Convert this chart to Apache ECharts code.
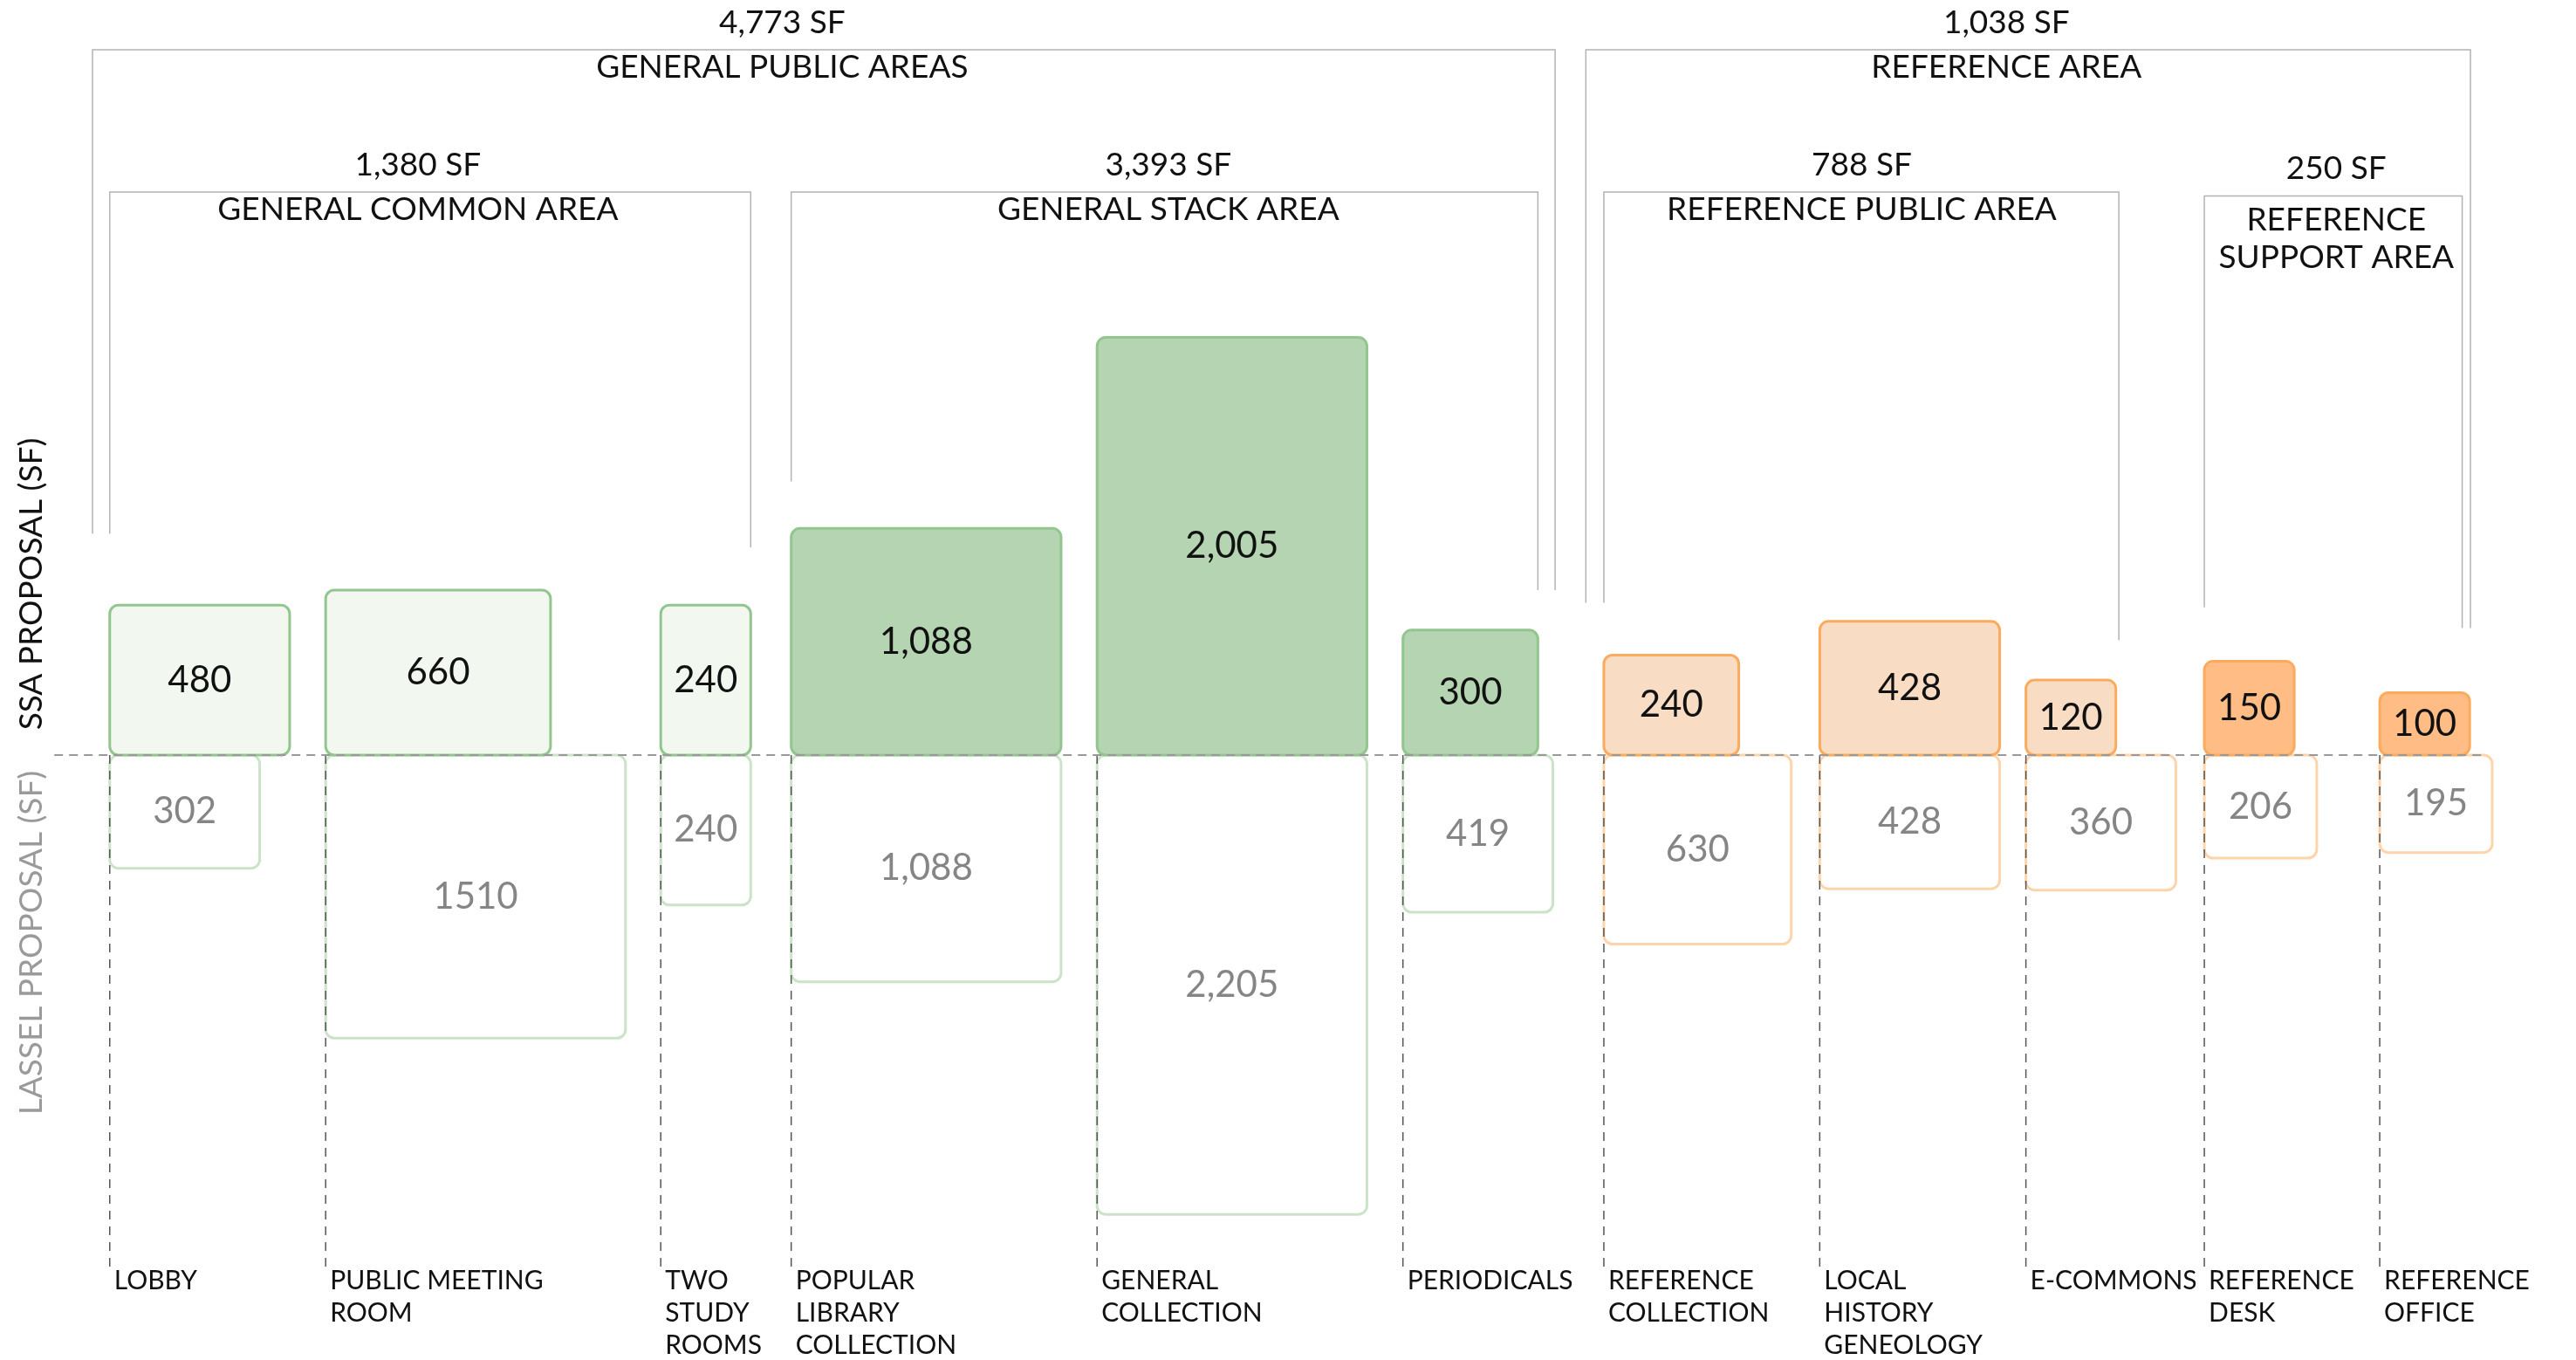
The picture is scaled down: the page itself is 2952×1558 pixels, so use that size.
<!DOCTYPE html>
<html>
<head>
<meta charset="utf-8">
<title>SSA vs Lassel proposal</title>
<script src="https://cdn.jsdelivr.net/npm/echarts@6/dist/echarts.min.js"></script>
<style>
  html, body { margin: 0; padding: 0; background: #fff; }
  #main { width: 2952px; height: 1558px; }
</style>
</head>
<body>
<div id="main"></div>
<script>
// room data (SF) and the room width used for each box (ft)
var categories = ['LOBBY', 'PUBLIC MEETING\nROOM', 'TWO\nSTUDY\nROOMS', 'POPULAR\nLIBRARY\nCOLLECTION',
    'GENERAL\nCOLLECTION', 'PERIODICALS', 'REFERENCE\nCOLLECTION', 'LOCAL\nHISTORY\nGENEOLOGY',
    'E-COMMONS', 'REFERENCE\nDESK', 'REFERENCE\nOFFICE'];
var ssaValues = [480, 660, 240, 1088, 2005, 300, 240, 428, 120, 150, 100];
var lasselValues = [302, 1510, 240, 1088, 2205, 419, 630, 428, 360, 206, 195];
var lasselLabels = ['302', '1510', '240', '1,088', '2,205', '419', '630', '428', '360', '206', '195'];
var ssaWidths = [24, 30, 12, 36, 36, 18, 18, 24, 12, 12, 12];
var lasselWidths = [20, 40, 12, 36, 36, 20, 25, 24, 20, 15, 15];
var family = ['green', 'green', 'green', 'green', 'green', 'green', 'orange', 'orange', 'orange', 'orange', 'orange'];
var shade = ['light', 'light', 'light', 'dark', 'dark', 'dark', 'light', 'light', 'light', 'dark', 'dark'];

var groupNames = ['GENERAL PUBLIC AREAS', 'GENERAL COMMON AREA', 'GENERAL STACK AREA',
    'REFERENCE AREA', 'REFERENCE PUBLIC AREA', 'REFERENCE\nSUPPORT AREA'];
var groupTotals = [4773, 1380, 3393, 1038, 788, 250];

// layout, in ft along the axes
var boxX = [3.0, 31.8, 76.5, 93.9, 134.7, 175.5, 202.3, 231.1, 258.6, 282.4, 305.8];
// [left, right, top, left leg end, right leg end, label x]
var bracketLayout = [
    [0.7, 195.8, 94.05, 29.5, 22.0, 92.7],
    [3.0, 88.5, 75.08, 29.5, 27.7, 44.1],
    [93.9, 193.5, 75.08, 36.5, 22.0, 144.2],
    [199.9, 317.9, 94.05, 20.3, 16.95, 256.0],
    [202.3, 271.0, 75.08, 20.3, 15.3, 236.7],
    [282.4, 316.8, 74.56, 19.7, 16.95, 300.0]
];
var labelY = -68.3;

var colors = {
    green: { light: '#f2f8f0', dark: '#b5d5b2', stroke: '#93c58f', low: '#cbe4c8' },
    orange: { light: '#f8ddc4', dark: '#ffbd85', stroke: '#fbab5e', low: '#fed4ab' }
};
var FONT = 'Lato, "Noto Sans", sans-serif';

var dom = document.getElementById('main');
var myChart = echarts.init(dom, null, { renderer: 'canvas' });

function fmt(v) {
    return v.toLocaleString('en-US');
}

function boxItem(params, api, upper) {
    var i = params.dataIndex;
    var x = api.value(0), w = api.value(1), v = api.value(2);
    var h = v / w;
    var a = api.coord([x, upper ? h : 0]);
    var b = api.coord([x + w, upper ? 0 : -h]);
    var c = colors[family[i]];
    return {
        type: 'group',
        children: [
            {
                type: 'rect',
                shape: { x: a[0], y: a[1], width: b[0] - a[0], height: b[1] - a[1], r: 10 },
                style: {
                    fill: upper ? c[shade[i]] : '#ffffff',
                    stroke: upper ? c.stroke : c.low,
                    lineWidth: 3
                }
            },
            {
                type: 'text',
                style: {
                    text: upper ? fmt(v) : lasselLabels[i],
                    x: (a[0] + b[0]) / 2,
                    y: (a[1] + b[1]) / 2,
                    align: 'center',
                    verticalAlign: 'middle',
                    fontSize: 42,
                    fontFamily: FONT,
                    fill: upper ? '#111111' : '#858585'
                }
            }
        ]
    };
}

var option = {
    animation: false,
    grid: { left: 100, top: 5.9, width: 2835, height: 1546.4 },
    xAxis: { type: 'value', min: 0, max: 330, show: false },
    yAxis: { type: 'value', min: -80, max: 100, show: false },
    graphic: [
        {
            type: 'text', x: 36, y: 669, rotation: Math.PI / 2,
            style: { text: 'SSA PROPOSAL (SF)', align: 'center', verticalAlign: 'middle',
                fontSize: 37, fontFamily: FONT, fill: '#111111' }
        },
        {
            type: 'text', x: 36, y: 1080, rotation: Math.PI / 2,
            style: { text: 'LASSEL PROPOSAL (SF)', align: 'center', verticalAlign: 'middle',
                fontSize: 37, fontFamily: FONT, fill: '#9a9a9a' }
        }
    ],
    series: [
        {
            name: 'Lassel',
            type: 'custom',
            z: 1,
            renderItem: function (params, api) { return boxItem(params, api, false); },
            data: categories.map(function (c, i) { return [boxX[i], lasselWidths[i], lasselValues[i]]; })
        },
        {
            name: 'SSA',
            type: 'custom',
            z: 2,
            renderItem: function (params, api) { return boxItem(params, api, true); },
            data: categories.map(function (c, i) { return [boxX[i], ssaWidths[i], ssaValues[i]]; })
        },
        {
            // drop lines and room names
            type: 'custom',
            z: 3,
            renderItem: function (params, api) {
                var i = params.dataIndex;
                var top = api.coord([boxX[i], 0]);
                var bot = api.coord([boxX[i], labelY]);
                return {
                    type: 'group',
                    children: [
                        {
                            type: 'line',
                            shape: { x1: top[0], y1: top[1], x2: bot[0], y2: bot[1] },
                            style: { stroke: '#555555', lineWidth: 1.5, lineDash: [10, 8] }
                        },
                        {
                            type: 'text',
                            style: {
                                text: categories[i], x: top[0] + 5, y: bot[1] - 3,
                                align: 'left', verticalAlign: 'top', lineHeight: 37,
                                fontSize: 30, fontFamily: FONT, fill: '#111111'
                            }
                        }
                    ]
                };
            },
            data: categories.map(function (c, i) { return [boxX[i], 0]; })
        },
        {
            // zero line
            type: 'custom',
            z: 4,
            renderItem: function (params, api) {
                var a = api.coord([api.value(0), 0]);
                var b = api.coord([api.value(1), 0]);
                return {
                    type: 'line',
                    shape: { x1: a[0], y1: a[1], x2: b[0], y2: b[1] },
                    style: { stroke: '#999999', lineWidth: 2, lineDash: [10, 7] }
                };
            },
            data: [[-4.4, 319.5]]
        },
        {
            // group brackets
            type: 'custom',
            z: 5,
            renderItem: function (params, api) {
                var i = params.dataIndex;
                var g = bracketLayout[i];
                var lb = api.coord([g[0], g[3]]);
                var lt = api.coord([g[0], g[2]]);
                var rt = api.coord([g[1], g[2]]);
                var rb = api.coord([g[1], g[4]]);
                var lx = api.coord([g[5], g[2]])[0];
                var twoLine = groupNames[i].indexOf('\n') >= 0;
                return {
                    type: 'group',
                    children: [
                        {
                            type: 'polyline',
                            shape: { points: [lb, lt, rt, rb] },
                            style: { stroke: '#b3b3b3', lineWidth: 1.5, fill: null }
                        },
                        {
                            type: 'text',
                            style: {
                                text: fmt(groupTotals[i]) + ' SF', x: lx, y: lt[1] - 31,
                                align: 'center', verticalAlign: 'middle',
                                fontSize: 37, fontFamily: FONT, fill: '#111111'
                            }
                        },
                        {
                            type: 'text',
                            style: {
                                text: groupNames[i], x: lx, y: lt[1] + (twoLine ? 6 : -1),
                                align: 'center', verticalAlign: 'top', lineHeight: 43,
                                fontSize: 37, fontFamily: FONT, fill: '#111111'
                            }
                        }
                    ]
                };
            },
            data: groupNames.map(function (n, i) { return [i]; })
        }
    ]
};

myChart.setOption(option);
window.addEventListener('resize', myChart.resize);
</script>
</body>
</html>
